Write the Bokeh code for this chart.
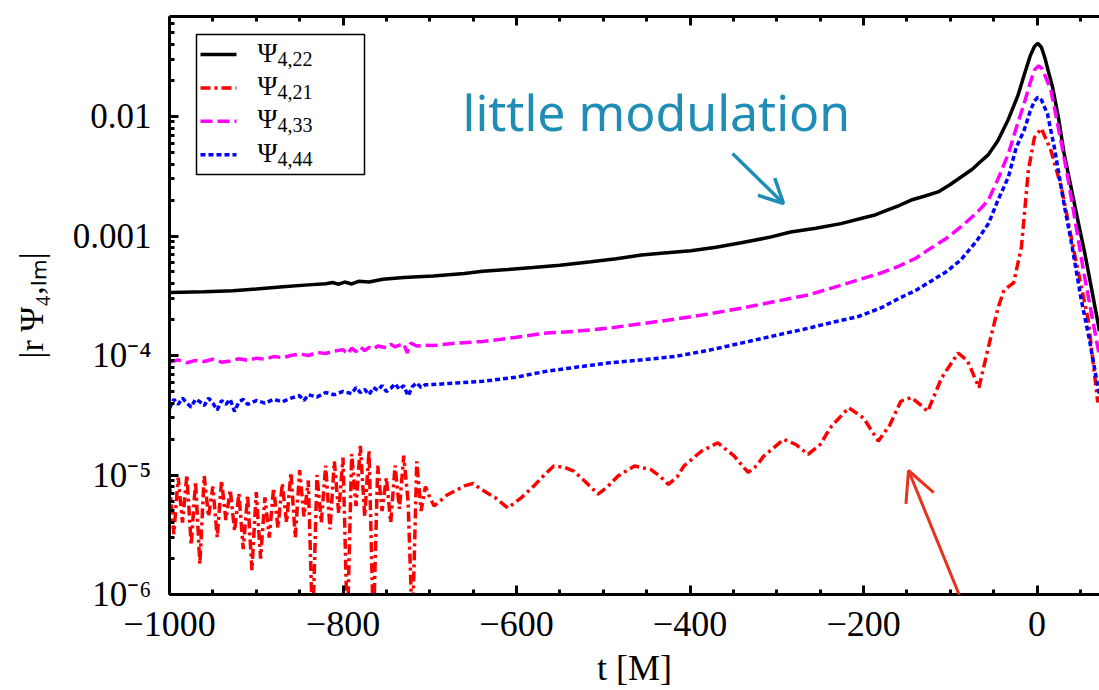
import numpy as np
from bokeh.plotting import figure
from bokeh.models import (Range1d, FixedTicker, LinearAxis, Label, Arrow, OpenHead,
                          BoxAnnotation, CustomJSTickFormatter)
from bokeh.embed import file_html
from bokeh.resources import INLINE

# ---- data: |r Psi_4,lm| versus t [M] ----
t22 = [-1000, -960, -927, -900, -869, -840, -820, -812, -805, -798, -790, -782, -770, -754, -730,
       -696, -660, -639, -610, -581, -550, -514, -485, -456, -430, -399, -370, -341, -310, -284,
       -255, -226, -203, -188, -175, -159, -145, -130, -114, -100, -88, -75, -65, -56, -45, -33,
       -22, -15, -8, -3, 1, 5, 9, 13, 18, 25, 31, 39, 47, 55, 62, 72]
psi22 = [3.36e-4, 3.42e-4, 3.49e-4, 3.60e-4, 3.77e-4, 3.90e-4, 3.98e-4, 4.08e-4, 3.95e-4, 4.12e-4,
         3.97e-4, 4.18e-4, 4.12e-4, 4.35e-4, 4.50e-4, 4.63e-4, 4.85e-4, 5.07e-4, 5.25e-4, 5.45e-4,
         5.70e-4, 6.09e-4, 6.45e-4, 6.93e-4, 7.20e-4, 7.53e-4, 8.05e-4, 8.78e-4, 9.70e-4, 1.08e-3,
         1.16e-3, 1.27e-3, 1.40e-3, 1.49e-3, 1.62e-3, 1.80e-3, 2.00e-3, 2.15e-3, 2.34e-3, 2.70e-3,
         3.10e-3, 3.60e-3, 4.20e-3, 4.80e-3, 6.30e-3, 9.50e-3, 1.50e-2, 2.20e-2, 3.20e-2, 3.85e-2,
         4.10e-2, 3.80e-2, 3.10e-2, 2.40e-2, 1.75e-2, 9.50e-3, 5.00e-3, 2.60e-3, 1.36e-3, 7.20e-4,
         3.90e-4, 1.60e-4]

t21_early = list(range(-1000, -695, 5))
psi21_early = [8.5e-6, 3.2e-6, 9.5e-6, 4.0e-6, 1.0e-5, 2.6e-6, 8.8e-6, 1.8e-6, 9.8e-6, 4.5e-6,
               8.0e-6, 3.0e-6, 9.0e-6, 4.2e-6, 7.5e-6, 3.4e-6, 7.0e-6, 2.4e-6, 6.8e-6, 1.6e-6,
               7.2e-6, 2.0e-6, 6.5e-6, 3.0e-6, 7.8e-6, 3.6e-6, 8.5e-6, 4.0e-6, 1.05e-5, 3.0e-6,
               1.1e-5, 4.5e-6, 9.0e-6, 5.0e-7, 1.0e-5, 4.0e-6, 1.2e-5, 3.5e-6, 1.3e-5, 4.8e-6,
               1.4e-5, 5.0e-7, 1.5e-5, 5.5e-6, 1.75e-5, 4.5e-6, 1.6e-5, 5.0e-7, 1.2e-5, 5.0e-6,
               9.5e-6, 4.0e-6, 1.2e-5, 5.2e-6, 1.45e-5, 6.0e-6, 5.0e-7, 1.3e-5, 5.0e-6, 8.0e-6,
               6.5e-6]
t21_late = [-695, -680, -660, -650, -641, -625, -610, -595, -580, -568, -557, -545, -534, -520,
            -506, -495, -483, -464, -445, -435, -425, -415, -407, -387, -368, -349, -340, -333,
            -323, -315, -292, -278, -264, -250, -237, -217, -200, -183, -170, -157, -145, -135,
            -126, -110, -91, -80, -67, -56, -45, -38, -27, -18, -10, -3, 5, 16, 28, 43, 59, 70]
psi21_late = [5.5e-6, 6.8e-6, 8.1e-6, 8.5e-6, 7.6e-6, 6.5e-6, 5.3e-6, 6.4e-6, 8.1e-6, 1.0e-5,
              1.19e-5, 1.16e-5, 1.08e-5, 8.7e-6, 6.9e-6, 8.0e-6, 9.8e-6, 1.19e-5, 1.11e-5, 9.8e-6,
              8.35e-6, 9.6e-6, 1.19e-5, 1.58e-5, 1.86e-5, 1.44e-5, 1.2e-5, 1.05e-5, 1.2e-5, 1.44e-5,
              1.99e-5, 1.8e-5, 1.49e-5, 1.8e-5, 2.56e-5, 3.65e-5, 3.0e-5, 1.92e-5, 2.6e-5, 4.14e-5,
              4.45e-5, 3.9e-5, 3.4e-5, 6.5e-5, 1.05e-4, 9.0e-5, 5.38e-5, 1.18e-4, 2.5e-4, 3.54e-4,
              4.05e-4, 8.07e-4, 3.55e-3, 6.68e-3, 7.94e-3, 5.2e-3, 2.56e-3, 7.2e-4, 1.99e-4, 4.03e-5]
t21 = t21_early + t21_late
psi21 = psi21_early + psi21_late

t33 = [-1000, -990, -980, -970, -960, -950, -940, -930, -920, -910, -900, -890, -880, -870, -860,
       -850, -840, -830, -820, -810, -800, -795, -790, -785, -780, -775, -770, -765, -760, -750,
       -745, -740, -735, -730, -726, -722, -715, -705, -696, -670, -639, -600, -566, -530, -495,
       -455, -418, -380, -341, -300, -264, -235, -206, -180, -159, -140, -126, -105, -88, -70,
       -56, -45, -33, -24, -15, -8, -3, 2, 6, 11, 16, 22, 29, 36, 45, 54, 63, 72]
psi33 = [8.8e-5, 9.2e-5, 8.7e-5, 9.1e-5, 8.9e-5, 9.3e-5, 8.8e-5, 9.0e-5, 9.4e-5, 9.1e-5, 9.5e-5,
         9.3e-5, 9.8e-5, 9.6e-5, 1.0e-4, 1.03e-4, 1.0e-4, 1.06e-4, 1.04e-4, 1.09e-4, 1.12e-4,
         1.03e-4, 1.15e-4, 1.08e-4, 1.18e-4, 1.10e-4, 1.17e-4, 1.13e-4, 1.20e-4, 1.16e-4, 1.24e-4,
         1.18e-4, 1.22e-4, 1.25e-4, 1.05e-4, 1.27e-4, 1.20e-4, 1.22e-4, 1.21e-4, 1.27e-4, 1.31e-4,
         1.42e-4, 1.54e-4, 1.60e-4, 1.69e-4, 1.85e-4, 2.01e-4, 2.22e-4, 2.49e-4, 2.85e-4, 3.21e-4,
         3.70e-4, 4.29e-4, 4.90e-4, 5.61e-4, 6.50e-4, 7.62e-4, 9.50e-4, 1.19e-3, 1.55e-3, 2.00e-3,
         3.00e-3, 4.89e-3, 8.00e-3, 1.28e-2, 1.90e-2, 2.45e-2, 2.66e-2, 2.50e-2, 2.05e-2, 1.65e-2,
         1.00e-2, 5.50e-3, 2.93e-3, 1.20e-3, 4.90e-4, 2.20e-4, 9.80e-5]

t44 = [-1000, -995, -990, -985, -980, -975, -970, -965, -960, -955, -950, -945, -940, -935, -930,
       -925, -920, -915, -910, -900, -890, -880, -870, -860, -850, -845, -840, -830, -820, -810,
       -800, -790, -785, -780, -775, -770, -765, -760, -755, -750, -745, -740, -735, -730, -725,
       -720, -715, -710, -705, -696, -670, -639, -600, -566, -530, -495, -455, -418, -380, -341,
       -300, -264, -235, -206, -180, -159, -140, -126, -105, -88, -70, -56, -45, -33, -24, -15,
       -8, -3, 1, 5, 12, 20, 31, 40, 51, 60, 72]
psi44 = [3.6e-5, 4.3e-5, 3.9e-5, 4.4e-5, 4.0e-5, 3.7e-5, 4.3e-5, 4.1e-5, 3.8e-5, 4.4e-5, 4.0e-5,
         3.5e-5, 4.2e-5, 3.9e-5, 4.3e-5, 3.4e-5, 4.1e-5, 4.3e-5, 3.9e-5, 4.2e-5, 4.0e-5, 4.3e-5,
         4.1e-5, 4.4e-5, 4.6e-5, 4.2e-5, 4.7e-5, 4.5e-5, 4.9e-5, 4.7e-5, 5.0e-5, 4.8e-5, 5.4e-5,
         4.9e-5, 5.2e-5, 4.7e-5, 5.4e-5, 5.1e-5, 5.6e-5, 5.0e-5, 5.3e-5, 5.8e-5, 5.2e-5, 5.6e-5,
         4.6e-5, 5.5e-5, 5.9e-5, 5.4e-5, 5.7e-5, 5.71e-5, 5.9e-5, 6.08e-5, 6.6e-5, 7.37e-5, 8.0e-5,
         8.65e-5, 9.2e-5, 9.8e-5, 1.1e-4, 1.27e-4, 1.48e-4, 1.69e-4, 1.9e-4, 2.12e-4, 2.5e-4,
         3.01e-4, 3.5e-4, 4.03e-4, 5.0e-4, 6.29e-4, 9.0e-4, 1.27e-3, 2.0e-3, 3.12e-3, 5.5e-3,
         7.64e-3, 1.1e-2, 1.35e-2, 1.45e-2, 1.38e-2, 1.05e-2, 5.5e-3, 1.87e-3, 8.5e-4, 2.92e-4,
         1.4e-4, 4.6e-5]

x_ticks = [-1000, -800, -600, -400, -200, 0]
x_minor = [-950, -900, -850, -750, -700, -650, -550, -500, -450, -350, -300, -250,
           -150, -100, -50, 50]
y_ticks = [1e-6, 1e-5, 1e-4, 1e-3, 1e-2]
y_tick_labels = ["10\u207b\u2076", "10\u207b\u2075", "10\u207b\u2074", "0.001", "0.01"]
y_minor = [m * d for d in y_ticks for m in range(2, 10)]

series = [
    ("4,22", t22, psi22, "black", None),
    ("4,21", t21, psi21, "#ff0000", "10 4 3 4"),
    ("4,33", t33, psi33, "#ff00ff", "12 5"),
    ("4,44", t44, psi44, "#0000ff", "5 3"),
]

SERIF = "Liberation Serif"
LW = 3.5

p = figure(width=1099, height=690, x_range=Range1d(-1000, 72), y_range=Range1d(1e-6, 0.0687),
           y_axis_type="log", output_backend="svg", toolbar_location=None,
           min_border_left=169, min_border_right=0, min_border_top=16, min_border_bottom=94)
p.outline_line_color = None
p.xgrid.visible = False
p.ygrid.visible = False
p.background_fill_color = "white"
p.border_fill_color = "white"

for _, t, v, col, dash in series:
    kw = dict(line_color=col, line_width=LW)
    if dash:
        kw["line_dash"] = dash
    p.line(t, v, **kw)

def style_axis(ax):
    ax.axis_line_width = 3
    ax.axis_line_color = "black"
    ax.major_tick_in = 9
    ax.major_tick_out = 0
    ax.minor_tick_in = 5
    ax.minor_tick_out = 0
    ax.major_tick_line_width = 3
    ax.minor_tick_line_width = 3
    ax.major_tick_line_color = "black"
    ax.minor_tick_line_color = "black"

xa = p.xaxis[0]
xa.ticker = FixedTicker(ticks=x_ticks, minor_ticks=x_minor)
style_axis(xa)
xa.major_label_overrides = {v: str(v).replace("-", "\u2212") for v in x_ticks}
xa.major_label_text_font = SERIF
xa.major_label_text_font_size = "36px"
xa.major_label_text_color = "black"
xa.major_label_standoff = 17
xa.axis_label = "t [M]"
xa.axis_label_text_font = SERIF
xa.axis_label_text_font_size = "36px"
xa.axis_label_text_font_style = "normal"
xa.axis_label_text_color = "black"
xa.axis_label_standoff = 9

top = LinearAxis(ticker=FixedTicker(ticks=x_ticks, minor_ticks=x_minor),
                 formatter=CustomJSTickFormatter(code="return ''"))
style_axis(top)
p.add_layout(top, "above")

ya = p.yaxis[0]
ya.ticker = FixedTicker(ticks=y_ticks, minor_ticks=y_minor)
ya.formatter = CustomJSTickFormatter(args=dict(vals=y_ticks, labs=y_tick_labels), code="""
    for (let i = 0; i < vals.length; i++) {
        if (Math.abs(Math.log10(tick) - Math.log10(vals[i])) < 1e-6) return labs[i];
    }
    return '';
""")
style_axis(ya)
ya.major_label_text_font = SERIF
ya.major_label_text_font_size = "35px"
ya.major_label_text_color = "black"
ya.major_label_standoff = 18
ya.axis_label = "|r \u03a8\u2084,\u2097\u2098|"
ya.axis_label_text_font = SERIF
ya.axis_label_text_font_size = "34px"
ya.axis_label_text_font_style = "normal"
ya.axis_label_text_color = "black"
ya.axis_label_standoff = 20

# legend box
p.add_layout(BoxAnnotation(left=27, right=195, bottom=420, top=560, left_units="screen",
                           right_units="screen", bottom_units="screen", top_units="screen",
                           fill_color="white", fill_alpha=1.0, line_color="black",
                           line_alpha=1.0, line_width=1.5))
for i, (sub, _, _, col, dash) in enumerate(series):
    yy = 540 - i * 33.4
    akw = dict(x_start=31, y_start=yy, x_end=67, y_end=yy, start_units="screen",
               end_units="screen", end=None, line_color=col, line_width=LW)
    if dash:
        akw["line_dash"] = dash
    p.add_layout(Arrow(**akw))
    p.add_layout(Label(x=88, y=yy + 2, x_units="screen", y_units="screen", text="\u03a8",
                       text_font=SERIF, text_font_size="27px", text_baseline="alphabetic",
                       text_color="black"))
    p.add_layout(Label(x=108, y=yy - 4, x_units="screen", y_units="screen", text=sub,
                       text_font=SERIF, text_font_size="20px", text_baseline="alphabetic",
                       text_color="black"))

# annotations
TEAL = "#1f8db5"
p.add_layout(Label(x=293, y=483, x_units="screen", y_units="screen", text="little modulation",
                   text_font="Noto Sans", text_font_size="50px", text_baseline="alphabetic",
                   text_color=TEAL))
p.add_layout(Arrow(x_start=563, y_start=441, x_end=614, y_end=391, start_units="screen",
                   end_units="screen", line_color=TEAL, line_width=3.5,
                   end=OpenHead(size=24, line_color=TEAL, line_width=3.5)))
RED = "#e8321e"
# the red pointer runs down across the time axis; drawn on the overlay level
p.add_layout(Arrow(x_start=821, y_start=-77, x_end=739, y_end=124, start_units="screen",
                   end_units="screen", line_color=RED, line_width=3, level="overlay",
                   end=OpenHead(size=30, line_color=RED, line_width=3)))

open("out.html", "w").write(file_html(p, INLINE))
